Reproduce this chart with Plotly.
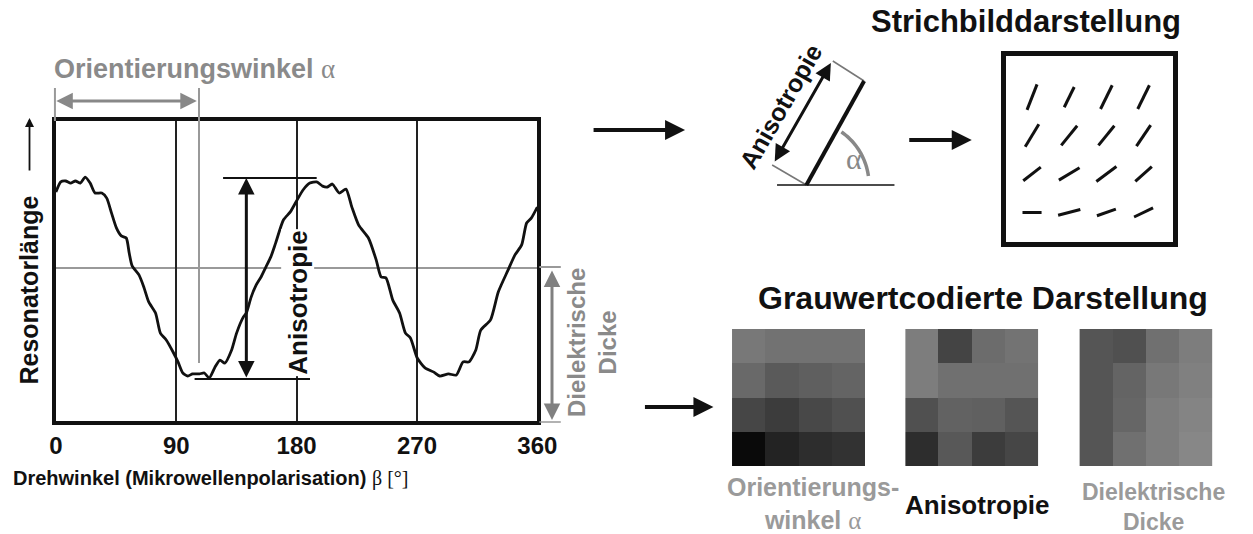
import numpy as np
import plotly.graph_objects as go

W, H = 1253, 534

# ---------------- data ----------------
beta = [0, 3.6, 7.3, 11.0, 14.6, 18.3, 21.9, 25.6, 29.2, 34.3, 38.0, 41.6, 45.3, 48.9, 52.6, 54.8,
        57.0, 62.1, 65.7, 69.4, 74.5, 78.1, 82.5, 87.6, 91.3, 94.9, 98.6, 102.2, 107.3, 111.0, 114.6,
        119.0, 122.7, 126.3, 131.4, 135.1, 140.2, 142.4, 146.0, 149.7, 153.4, 157.0, 160.7, 164.3,
        170.1, 175.3, 180.4, 184.8, 189.9, 195.0, 199.4, 203.0, 206.7, 211.8, 216.9, 221.3, 226.4,
        233.7, 239.5, 243.2, 246.8, 251.9, 257.0, 261.4, 265.1, 270.2, 276.0, 282.6, 287.0, 293.6,
        299.4, 304.5, 308.9, 314.0, 317.7, 325.0, 330.8, 338.1, 343.2, 348.3, 352.0, 355.6, 360.0]
reso = [76.3, 79.7, 80.0, 79.3, 80.0, 79.3, 81.3, 79.3, 76.0, 76.0, 74.3, 69.3, 64.3, 61.7, 61.0, 56.0,
        51.7, 48.7, 44.7, 39.7, 36.0, 29.3, 27.0, 23.0, 19.7, 16.0, 15.0, 15.7, 15.7, 16.0, 14.3,
        18.0, 20.3, 19.3, 23.7, 29.3, 34.7, 36.0, 41.3, 45.3, 48.0, 51.3, 54.7, 59.3,
        67.0, 69.7, 73.7, 77.0, 79.3, 79.7, 78.3, 78.0, 79.0, 76.0, 77.3, 71.3, 65.3,
        61.0, 53.7, 48.0, 47.7, 40.3, 36.0, 29.3, 27.7, 21.0, 17.7, 16.3, 15.0, 15.7,
        15.3, 19.7, 19.7, 23.7, 30.3, 33.7, 43.0, 50.3, 55.3, 58.7, 66.0, 67.7, 71.3]

tick_beta = [0, 90, 180, 270, 360]
tick_labels = ["0", "90", "180", "270", "360"]
mid_level = 51.0
alpha_beta = 107.0
aniso_top, aniso_bot = 81.0, 14.0
aniso_beta = 142.4

glyph_angles = [[68, 63, 63, 63],
                [58, 50, 50, 55],
                [37, 30, 36, 41],
                [0, 14, 19, 25]]
glyph_len = [[28, 23, 27, 27],
             [27, 26, 26, 26],
             [23, 25, 26, 23],
             [20, 24, 21, 22]]

map_orient = [[120, 114, 114, 114], [105, 90, 95, 100], [70, 60, 72, 80], [10, 35, 45, 50]]
map_aniso = [[125, 68, 108, 115], [125, 112, 112, 112], [80, 98, 96, 85], [45, 88, 60, 70]]
map_dicke = [[85, 80, 112, 125], [85, 100, 120, 128], [85, 102, 125, 132], [85, 112, 125, 135]]

# ---------------- helpers ----------------
FONT = "Liberation Sans, Arial, sans-serif"
GRAY = "#8a8a8a"


def X(p):
    return p / W


def Y(p):
    return 1 - p / H


def B(t):
    return "<b>" + t + "</b>"


def GREEK(c):
    return '<span style="font-weight:normal;font-family:Liberation Serif">' + c + "</span>"


fig = go.Figure()

# main curve
fig.add_trace(go.Scatter(x=beta, y=reso, mode="lines",
                         line=dict(color="#111", width=2.8, shape="spline", smoothing=0.6),
                         xaxis="x", yaxis="y", showlegend=False, hoverinfo="skip"))

# glyph panel
n = 4
UNIT = 39.0
gx, gy = [], []
for r in range(n):
    for c in range(n):
        a = np.deg2rad(glyph_angles[r][c])
        h = glyph_len[r][c] / UNIT / 2
        cx, cy = c + 1, r + 1
        gx += [cx - h * np.cos(a), cx + h * np.cos(a), None]
        gy += [cy + h * np.sin(a), cy - h * np.sin(a), None]
fig.add_trace(go.Scatter(x=gx, y=gy, mode="lines", line=dict(color="#111", width=3),
                         xaxis="x2", yaxis="y2", showlegend=False, hoverinfo="skip"))

# heatmaps
gscale = [[0, "black"], [1, "white"]]
for m, ax in [(map_orient, 3), (map_aniso, 4), (map_dicke, 5)]:
    fig.add_trace(go.Heatmap(z=m, colorscale=gscale, zmin=0, zmax=255, showscale=False,
                             xaxis="x%d" % ax, yaxis="y%d" % ax, hoverinfo="skip"))

layout = dict(
    width=W, height=H, margin=dict(l=0, r=0, t=0, b=0),
    paper_bgcolor="white", plot_bgcolor="rgba(0,0,0,0)",
    font=dict(family=FONT, color="#111"),
    showlegend=False,
    xaxis=dict(domain=[X(50), X(542)], range=[0, 360], anchor="y", tickvals=tick_beta,
               ticktext=[B(t) for t in tick_labels], tickfont=dict(size=24, color="#111"),
               showgrid=True, gridcolor="#222", gridwidth=1.6, zeroline=False,
               showline=True, mirror=True, linecolor="#111", linewidth=4, ticks=""),
    yaxis=dict(domain=[Y(421), Y(121)], range=[0, 100], anchor="x", showticklabels=False, showgrid=False,
               zeroline=False, showline=True, mirror=True, linecolor="#111", linewidth=4, ticks=""),
    xaxis2=dict(domain=[X(1021), X(1192)], range=[0.30, 4.80], anchor="y2", showticklabels=False,
                showgrid=False, zeroline=False, showline=True, mirror=True, linecolor="#111", linewidth=5,
                ticks=""),
    yaxis2=dict(domain=[Y(242), Y(56)], range=[4.77, -0.07], anchor="x2", showticklabels=False,
                showgrid=False, zeroline=False, showline=True, mirror=True, linecolor="#111", linewidth=5,
                ticks=""),
)
map_x = [(741, 877), (918, 1054), (1096, 1232)]
for k, (x0, x1) in zip([3, 4, 5], map_x):
    layout["xaxis%d" % k] = dict(domain=[X(x0), X(x1)], anchor="y%d" % k, visible=False)
    layout["yaxis%d" % k] = dict(domain=[Y(466), Y(329)], anchor="x%d" % k, visible=False,
                                 autorange="reversed")
fig.update_layout(**layout)

shapes = []
shapes.append(dict(type="line", xref="x", yref="y", x0=0, x1=360, y0=mid_level, y1=mid_level,
                   line=dict(color="#999", width=2), layer="below"))
shapes.append(dict(type="line", xref="x", yref="y", x0=alpha_beta, x1=alpha_beta, y0=19.3, y1=100,
                   line=dict(color="#999", width=2), layer="below"))
shapes.append(dict(type="line", xref="x", yref="paper", x0=alpha_beta, x1=alpha_beta, y0=Y(121), y1=Y(88),
                   line=dict(color="#999", width=2)))
shapes.append(dict(type="line", xref="paper", yref="paper", x0=X(49), x1=X(49), y0=Y(121), y1=Y(88),
                   line=dict(color="#999", width=2)))
shapes.append(dict(type="line", xref="x", yref="y", x0=125, x1=195, y0=aniso_top, y1=aniso_top,
                   line=dict(color="#111", width=1.8)))
shapes.append(dict(type="line", xref="x", yref="y", x0=103.7, x1=190, y0=aniso_bot, y1=aniso_bot,
                   line=dict(color="#111", width=1.8)))
shapes.append(dict(type="line", xref="paper", yref="paper", x0=X(544), x1=X(566), y0=Y(267), y1=Y(267),
                   line=dict(color="#999", width=2)))
shapes.append(dict(type="line", xref="paper", yref="paper", x0=X(544), x1=X(566), y0=Y(422), y1=Y(422),
                   line=dict(color="#999", width=1.5)))


def seg(p0, p1, color, width):
    return dict(type="line", xref="paper", yref="paper", x0=X(p0[0]), y0=Y(p0[1]), x1=X(p1[0]), y1=Y(p1[1]),
                line=dict(color=color, width=width))


shapes.append(seg((844, 61), (876, 81), "#777", 1.5))
shapes.append(seg((782, 165), (817, 185), "#777", 1.5))
shapes.append(seg((817, 185), (876, 81), "#111", 4))
shapes.append(seg((787, 185), (907, 185), "#111", 1.5))
th = np.deg2rad(np.linspace(8, 56, 30))
cxp, cyp, rad = 817, 185, 64
pts = [(X(cxp + rad * np.cos(t)), Y(cyp - rad * np.sin(t))) for t in th]
path = "M " + " L ".join("%.5f,%.5f" % p for p in pts)
shapes.append(dict(type="path", xref="paper", yref="paper", path=path, line=dict(color="#888", width=3.5)))
fig.update_layout(shapes=shapes)

ann = []


def arrow(tail, head, color, width, both=False, size=1.0):
    d = dict(x=X(head[0]), y=Y(head[1]), xref="paper", yref="paper", ax=tail[0] - head[0], ay=tail[1] - head[1],
             axref="pixel", ayref="pixel", text="", showarrow=True, arrowhead=2, arrowsize=size, arrowwidth=width,
             arrowcolor=color, standoff=0, startstandoff=0)
    if both:
        d.update(arrowside="end+start", startarrowhead=2, startarrowsize=size)
    return d


ann.append(arrow((52, 101), (194, 101), "#888", 3, both=True, size=1.1))
ann.append(dict(x=aniso_beta, y=aniso_top, xref="x", yref="y", ax=aniso_beta, ay=aniso_bot, axref="x", ayref="y",
                text="", showarrow=True, arrowhead=2, arrowsize=1.1, arrowwidth=3, arrowcolor="#111",
                arrowside="end+start", startarrowhead=2, startarrowsize=1.1, standoff=0, startstandoff=0))
ann.append(arrow((557, 269), (557, 420), "#808080", 3, both=True, size=1.1))
ann.append(arrow((23, 172), (23, 118), "#111", 1.8, size=1.0))
ann.append(arrow((600, 130), (693, 130), "#111", 4, size=1.0))
ann.append(arrow((785, 163), (842, 63), "#111", 3, both=True, size=1.1))
ann.append(arrow((922, 140), (986, 140), "#111", 4, size=1.0))
ann.append(arrow((652, 407), (722, 407), "#111", 4, size=1.0))


def text(t, x, y, size=22, color="#111", angle=0, xanchor="center", yanchor="middle"):
    return dict(text=t, x=X(x), y=Y(y), xref="paper", yref="paper", showarrow=False, textangle=angle,
                font=dict(size=size, color=color, family=FONT), xanchor=xanchor, yanchor=yanchor)


ann.append(text(B("Orientierungswinkel ") + '<span style="font-family:Liberation Serif">α</span>', 46, 69,
                size=27, color=GRAY, xanchor="left"))
ann.append(dict(text=B("Anisotropie"), x=180.4, y=39.5, xref="x", yref="y", showarrow=False, textangle=-90,
                font=dict(size=26, color="#111", family=FONT), bgcolor="white", borderpad=1))
ann.append(text(B("Resonatorlänge"), 22, 290, size=25, angle=-90))
ann.append(text(B("Dielektrische<br>Dicke"), 598, 343, size=24, color=GRAY, angle=-90))
ann.append(text(B("Drehwinkel (Mikrowellenpolarisation) ") + GREEK("β [°]"), 4, 478, size=20, xanchor="left"))
ann.append(text(B("Anisotropie"), 791, 106, size=25, angle=-60))
ann.append(text('<span style="font-family:Liberation Serif">α</span>', 866, 158, size=30, color="#888"))
ann.append(text(B("Strichbilddarstellung"), 1041, 22, size=31))
ann.append(text(B("Grauwertcodierte Darstellung"), 998, 298, size=32))
ann.append(text(B("Orientierungs-<br>winkel ") + '<span style="font-family:Liberation Serif">α</span>', 824, 503,
                size=25, color="#9a9a9a"))
ann.append(text(B("Anisotropie"), 991, 505, size=26))
ann.append(text(B("Dielektrische<br>Dicke"), 1172, 507, size=23, color="#9a9a9a"))
fig.update_layout(annotations=ann)

fig.write_html("out.html")
